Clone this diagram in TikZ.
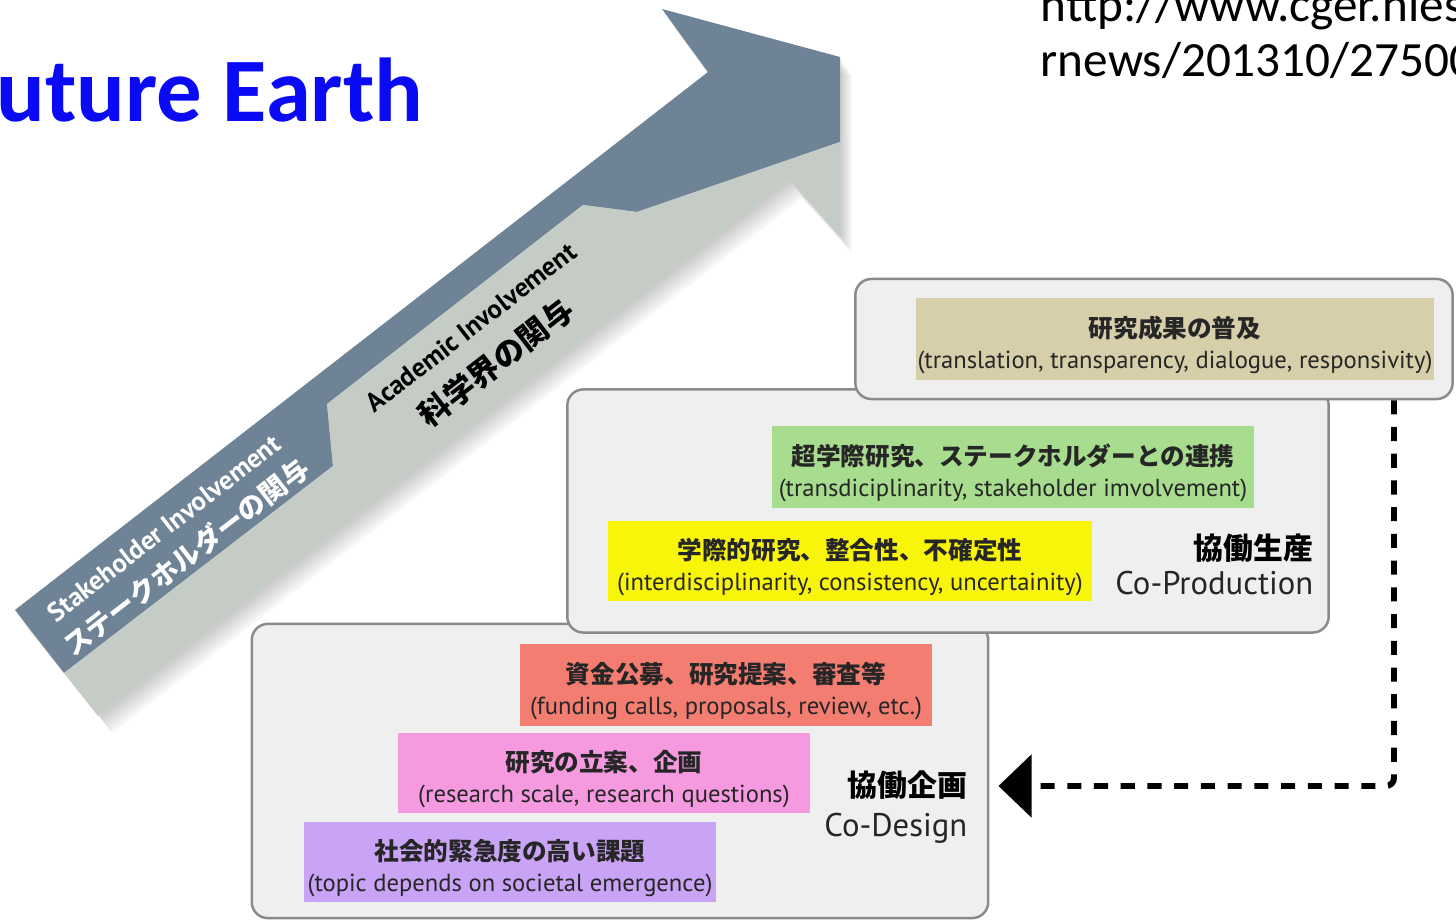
\documentclass[tikz,border=0pt]{standalone}
\usepackage{fontspec}
\setmainfont{Carlito}
\newfontfamily\jp{Noto Sans CJK JP}
\newfontfamily\pt{PT Sans}
\usetikzlibrary{arrows.meta}

\definecolor{slateband}{HTML}{6E8395}
\definecolor{sageband}{HTML}{C5CCC6}
\definecolor{panelfill}{HTML}{EFEFEF}
\definecolor{paneldraw}{HTML}{8A8A8A}
\definecolor{titleblue}{HTML}{0A0AF5}
\definecolor{tancol}{HTML}{D7CEAA}
\definecolor{greencol}{HTML}{A8DC8E}
\definecolor{yellowcol}{HTML}{F9F50A}
\definecolor{salmoncol}{HTML}{F47D72}
\definecolor{pinkcol}{HTML}{F59ADF}
\definecolor{lilaccol}{HTML}{C9A3F6}

\newcommand{\jb}[1]{{\jp\bfseries\rule{0pt}{9.3pt}#1}}

\begin{document}
\begin{tikzpicture}[x=0.01cm, y=-0.01cm,
    panel/.style={draw=paneldraw, fill=panelfill, line width=0.7pt, rounded corners=0.16cm, inner sep=0pt},
    tag/.style={inner sep=0pt, align=center, font=\pt\fontsize{7}{8.8}\selectfont, text=black!85},
    stagejp/.style={anchor=east, inner sep=0pt, font=\jp\bfseries\fontsize{8.5}{10}\selectfont},
    stageen/.style={anchor=base east, inner sep=0pt, font=\pt\fontsize{9.3}{11}\selectfont, text=black!85},
    bandtext/.style={rotate=37.8, inner sep=0pt, font=\pt\bfseries\fontsize{7.6}{9}\selectfont},
    feedback/.style={line width=1.7pt, dash pattern=on 4pt off 3.6pt, rounded corners=0.08cm,
      -{Triangle[length=9.4pt, width=17.6pt]}}]

    \useasboundingbox (0,0) rectangle (1456,922);
    \clip (0,0) rectangle (1456,922);

    % Title and source
    \node[anchor=base west, inner sep=0pt, text=titleblue, font=\bfseries\fontsize{25.8}{28}\selectfont] (title) at (-4,122) {uture Earth};
    \node[anchor=base west, inner sep=0pt, font=\fontsize{14}{16}\selectfont] (srcA) at (1040,22) {http://www.cger.nies};
    \node[anchor=base west, inner sep=0pt, font=\fontsize{14}{16}\selectfont] (srcB) at (1040,77) {rnews/201310/27500};

    % Rising arrow
    \foreach \s in {1,...,6}
    \fill[black, opacity=0.035, shift={(2*\s,3*\s)}] (15,610) -- (708,72) -- (662,9) -- (840,57) -- (840,235) -- (790,180) -- (100,715) -- cycle;
    \fill[slateband] (15,610) -- (708,72) -- (662,9) -- (840,57) -- (840,142) -- (637,212) -- (583,205) -- (327,404) -- (333,466) -- (64,673) -- cycle;
    \fill[sageband] (64,673) -- (333,466) -- (327,404) -- (583,205) -- (637,212) -- (840,142) -- (840,237) -- (790,180) -- (98,716) -- cycle;

    % Band labels
    \node[bandtext, text=white] (stakeen) at (164,528) {Stakeholder Involvement};
    \node[bandtext, text=white, font=\jp\bfseries\fontsize{7.8}{9}\selectfont] (stakejp) at (186,557) {ステークホルダーの関与};
    \node[bandtext] (acaden) at (471,327) {Academic Involvement};
    \node[bandtext, font=\jp\bfseries\fontsize{8.8}{10}\selectfont] (acadjp) at (496,362) {科学界の関与};

    % Stage panels
    \node[panel, minimum width=7.36cm, minimum height=2.94cm] (design) at (620,771) {};
    \node[panel, minimum width=7.61cm, minimum height=2.43cm] (production) at (948,511) {};
    \node[panel, minimum width=5.97cm, minimum height=1.20cm] (spread) at (1154,339) {};

    % Co-Design
    \node[tag, fill=salmoncol, minimum width=4.12cm, minimum height=0.81cm] (funding) at (726,685) {\jb{資金公募、研究提案、審査等}\\(funding calls, proposals, review, etc.)};
    \node[tag, fill=pinkcol, minimum width=4.11cm, minimum height=0.79cm] (planning) at (604,773) {\jb{研究の立案、企画}\\(research scale, research questions)};
    \node[tag, fill=lilaccol, minimum width=4.11cm, minimum height=0.80cm] (topic) at (510,862) {\jb{社会的緊急度の高い課題}\\(topic depends on societal emergence)};
    \node[stagejp] (designjp) at (968,785) {協働企画};
    \node[stageen] (designen) at (968,837) {Co-Design};

    % Co-Production
    \node[tag, fill=greencol, minimum width=4.82cm, minimum height=0.81cm] (trans) at (1013,467) {\jb{超学際研究、ステークホルダーとの連携}\\(transdiciplinarity, stakeholder imvolvement)};
    \node[tag, fill=yellowcol, minimum width=4.84cm, minimum height=0.80cm] (inter) at (850,561) {\jb{学際的研究、整合性、不確定性}\\(interdisciplinarity, consistency, uncertainity)};
    \node[stagejp] (prodjp) at (1314,548) {協働生産};
    \node[stageen] (proden) at (1314,595) {Co-Production};

    % Dissemination
    \node[tag, fill=tancol, minimum width=5.18cm, minimum height=0.81cm] (results) at (1175,339) {\jb{研究成果の普及}\\(translation, transparency, dialogue, responsivity)};

    % Feedback loop
    \coordinate (fbturn) at (1394,786);
    \draw[feedback] (spread.south -| fbturn) -- (fbturn) -- ([xshift=0.09cm]design.east |- fbturn);
\end{tikzpicture}
\end{document}
